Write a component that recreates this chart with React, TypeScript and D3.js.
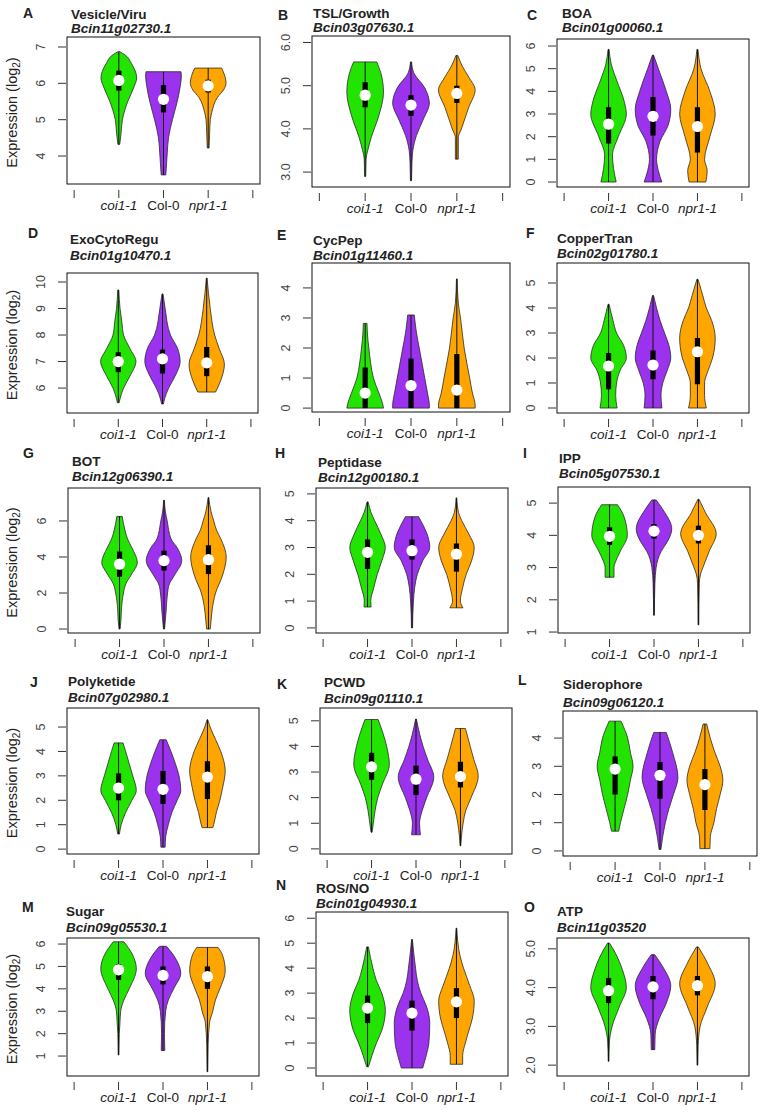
import React from "react";
import * as d3 from "d3";

type Violin = { q1: number; med: number; q3: number; profile: [number, number][] };

const groups = ["coi1-1", "Col-0", "npr1-1"];
const groupItalic = [true, false, true];
const groupColors = ["#22e400", "#9a32ee", "#ffa500"];

const letters = ["A", "B", "C", "D", "E", "F", "G", "H", "I", "J", "K", "L", "M", "N", "O"];
const titles = ["Vesicle/Viru", "TSL/Growth", "BOA", "ExoCytoRegu", "CycPep", "CopperTran", "BOT", "Peptidase", "IPP", "Polyketide", "PCWD", "Siderophore", "Sugar", "ROS/NO", "ATP"];
const genes = ["Bcin11g02730.1", "Bcin03g07630.1", "Bcin01g00060.1", "Bcin01g10470.1", "Bcin01g11460.1", "Bcin02g01780.1", "Bcin12g06390.1", "Bcin12g00180.1", "Bcin05g07530.1", "Bcin07g02980.1", "Bcin09g01110.1", "Bcin09g06120.1", "Bcin09g05530.1", "Bcin01g04930.1", "Bcin11g03520"];

const yTicks: number[][] = [
  [4, 5, 6, 7], [3, 4, 5, 6], [0, 1, 2, 3, 4, 5, 6],
  [6, 7, 8, 9, 10], [0, 1, 2, 3, 4], [0, 1, 2, 3, 4, 5],
  [0, 2, 4, 6], [0, 1, 2, 3, 4, 5], [1, 2, 3, 4, 5],
  [0, 1, 2, 3, 4, 5], [0, 1, 2, 3, 4, 5], [0, 1, 2, 3, 4],
  [1, 2, 3, 4, 5, 6], [0, 1, 2, 3, 4, 5, 6], [2, 3, 4, 5],
];
const tickDecimals = [0, 1, 0, 0, 0, 0, 0, 0, 0, 0, 0, 0, 0, 0, 1];

const violinsA: Violin[] = [
  { q1: 5.8, med: 6.08, q3: 6.35, profile: [[4.32, 0.05], [4.6, 0.12], [5.0, 0.2], [5.5, 0.5], [5.9, 0.85], [6.15, 1.0], [6.55, 0.7], [6.78, 0.35], [6.87, 0.05]] },
  { q1: 5.2, med: 5.56, q3: 5.95, profile: [[3.48, 0.13], [4.0, 0.2], [4.5, 0.28], [5.0, 0.5], [5.5, 0.77], [5.9, 0.93], [6.2, 1.0], [6.32, 0.98]] },
  { q1: 5.75, med: 5.93, q3: 6.1, profile: [[4.22, 0.05], [4.6, 0.08], [5.0, 0.12], [5.2, 0.2], [5.6, 0.5], [5.85, 0.9], [6.0, 1.0], [6.25, 0.9], [6.42, 0.75]] },
];
const violinsB: Violin[] = [
  { q1: 4.5, med: 4.78, q3: 5.08, profile: [[2.9, 0.03], [3.3, 0.05], [3.5, 0.14], [3.8, 0.33], [4.3, 0.74], [4.85, 1.0], [5.3, 0.85], [5.55, 0.63]] },
  { q1: 4.3, med: 4.55, q3: 4.78, profile: [[2.8, 0.03], [3.2, 0.05], [3.5, 0.1], [3.85, 0.3], [4.2, 0.65], [4.6, 1.0], [4.95, 0.75], [5.3, 0.15], [5.55, 0.03]] },
  { q1: 4.6, med: 4.82, q3: 5.0, profile: [[3.3, 0.08], [3.8, 0.08], [4.0, 0.25], [4.5, 0.65], [4.9, 1.0], [5.2, 0.65], [5.45, 0.3], [5.7, 0.05]] },
];
const violinsC: Violin[] = [
  { q1: 1.7, med: 2.55, q3: 3.3, profile: [[0, 0.43], [0.6, 0.28], [1.2, 0.22], [2.0, 0.55], [3.0, 1.0], [3.5, 0.9], [4.5, 0.45], [5.2, 0.15], [5.85, 0.03]] },
  { q1: 2.05, med: 2.9, q3: 3.75, profile: [[0, 0.5], [0.5, 0.3], [1.0, 0.2], [1.8, 0.4], [2.5, 0.85], [3.2, 1.0], [4.0, 0.75], [5.0, 0.3], [5.6, 0.03]] },
  { q1: 1.3, med: 2.45, q3: 3.3, profile: [[0, 0.47], [0.5, 0.55], [1.0, 0.4], [2.0, 0.7], [3.0, 1.0], [4.0, 0.7], [5.0, 0.2], [5.85, 0.03]] },
];
const violinsD: Violin[] = [
  { q1: 6.6, med: 7.0, q3: 7.35, profile: [[5.45, 0.05], [5.6, 0.1], [6.0, 0.3], [6.5, 0.7], [7.0, 1.0], [7.5, 0.65], [8.0, 0.3], [8.5, 0.2], [9.0, 0.1], [9.7, 0.03]] },
  { q1: 6.55, med: 7.1, q3: 7.45, profile: [[5.4, 0.05], [5.6, 0.12], [6.0, 0.35], [6.5, 0.75], [7.0, 1.0], [7.5, 0.85], [8.0, 0.45], [9.0, 0.15], [9.55, 0.03]] },
  { q1: 6.45, med: 6.95, q3: 7.55, profile: [[5.85, 0.5], [6.3, 0.8], [6.9, 1.0], [7.5, 0.7], [8.0, 0.45], [9.0, 0.2], [10.15, 0.02]] },
];
const violinsE: Violin[] = [
  { q1: 0, med: 0.5, q3: 1.35, profile: [[0, 1.0], [0.15, 0.95], [0.5, 0.75], [1.0, 0.45], [1.5, 0.3], [2.0, 0.2], [2.5, 0.12], [2.82, 0.1]] },
  { q1: 0, med: 0.75, q3: 1.65, profile: [[0, 1.0], [0.1, 1.0], [0.5, 0.9], [1.0, 0.75], [1.5, 0.6], [2.0, 0.45], [2.5, 0.3], [3.1, 0.18]] },
  { q1: 0, med: 0.6, q3: 1.8, profile: [[0, 1.0], [0.1, 1.0], [0.5, 0.85], [1.0, 0.7], [2.0, 0.4], [3.0, 0.2], [3.5, 0.08], [4.3, 0.02]] },
];
const violinsF: Violin[] = [
  { q1: 0.75, med: 1.68, q3: 2.2, profile: [[0, 0.48], [0.5, 0.4], [1.0, 0.45], [1.5, 0.65], [2.0, 1.0], [2.5, 0.85], [3.0, 0.45], [3.5, 0.25], [4.15, 0.03]] },
  { q1: 1.15, med: 1.72, q3: 2.3, profile: [[0, 0.5], [0.5, 0.45], [1.0, 0.55], [1.5, 0.8], [2.0, 1.0], [2.5, 0.9], [3.0, 0.65], [3.5, 0.4], [4.0, 0.2], [4.5, 0.03]] },
  { q1: 0.95, med: 2.25, q3: 2.8, profile: [[0, 0.5], [0.5, 0.4], [1.0, 0.4], [1.5, 0.6], [2.0, 0.85], [2.8, 1.0], [3.5, 0.8], [4.0, 0.5], [4.5, 0.3], [5.15, 0.03]] },
];
const violinsG: Violin[] = [
  { q1: 2.9, med: 3.6, q3: 4.3, profile: [[0, 0.03], [0.5, 0.08], [1.0, 0.1], [2.0, 0.22], [2.5, 0.35], [3.0, 0.65], [3.7, 1.0], [4.5, 0.7], [5.0, 0.45], [5.5, 0.3], [6.25, 0.15]] },
  { q1: 3.25, med: 3.8, q3: 4.35, profile: [[0, 0.03], [1.0, 0.12], [2.0, 0.2], [2.5, 0.3], [3.0, 0.6], [3.8, 1.0], [4.5, 0.75], [5.0, 0.4], [6.0, 0.18], [6.5, 0.08], [7.15, 0.02]] },
  { q1: 3.05, med: 3.85, q3: 4.65, profile: [[0, 0.1], [0.5, 0.15], [1.0, 0.2], [2.0, 0.4], [3.0, 0.8], [4.0, 1.0], [5.0, 0.7], [5.5, 0.45], [6.0, 0.3], [6.5, 0.15], [7.3, 0.02]] },
];
const violinsH: Violin[] = [
  { q1: 2.2, med: 2.82, q3: 3.3, profile: [[0.78, 0.2], [1.0, 0.18], [1.5, 0.35], [2.0, 0.55], [2.5, 0.8], [3.0, 1.0], [3.5, 0.75], [4.0, 0.4], [4.3, 0.2], [4.7, 0.03]] },
  { q1: 2.55, med: 2.88, q3: 3.3, profile: [[0, 0.03], [1.0, 0.08], [1.5, 0.15], [2.0, 0.3], [2.5, 0.6], [3.0, 1.0], [3.4, 0.9], [3.8, 0.65], [4.15, 0.37]] },
  { q1: 2.1, med: 2.75, q3: 3.15, profile: [[0.75, 0.37], [1.0, 0.22], [1.5, 0.35], [2.0, 0.55], [2.5, 0.85], [3.0, 1.0], [3.5, 0.7], [4.0, 0.3], [4.3, 0.12], [4.85, 0.02]] },
];
const violinsI: Violin[] = [
  { q1: 3.7, med: 3.97, q3: 4.25, profile: [[2.7, 0.25], [3.0, 0.25], [3.2, 0.35], [3.5, 0.6], [4.0, 1.0], [4.6, 0.8], [4.95, 0.45]] },
  { q1: 3.9, med: 4.13, q3: 4.35, profile: [[1.52, 0.02], [2.5, 0.05], [3.0, 0.12], [3.5, 0.4], [3.8, 0.75], [4.2, 1.0], [4.8, 0.5], [5.1, 0.12]] },
  { q1: 3.75, med: 4.0, q3: 4.3, profile: [[1.22, 0.02], [2.5, 0.05], [2.8, 0.12], [3.0, 0.25], [3.5, 0.6], [4.05, 1.0], [4.7, 0.4], [5.12, 0.03]] },
];
const violinsJ: Violin[] = [
  { q1: 2.0, med: 2.5, q3: 3.1, profile: [[0.62, 0.05], [1.0, 0.15], [1.5, 0.4], [2.0, 0.75], [2.4, 1.0], [3.0, 0.8], [3.5, 0.6], [4.0, 0.4], [4.35, 0.25]] },
  { q1: 1.85, med: 2.45, q3: 3.2, profile: [[0.08, 0.12], [0.5, 0.15], [1.0, 0.3], [1.5, 0.5], [2.0, 0.8], [2.4, 1.0], [3.0, 0.9], [3.5, 0.7], [4.0, 0.45], [4.48, 0.18]] },
  { q1: 2.05, med: 2.95, q3: 3.6, profile: [[0.88, 0.3], [1.0, 0.35], [1.5, 0.5], [2.0, 0.7], [2.5, 0.85], [3.2, 1.0], [4.0, 0.75], [4.5, 0.45], [5.0, 0.15], [5.3, 0.02]] },
];
const violinsK: Violin[] = [
  { q1: 2.7, med: 3.2, q3: 3.75, profile: [[0.65, 0.03], [1.0, 0.1], [1.5, 0.2], [2.0, 0.35], [2.5, 0.6], [3.3, 1.0], [4.0, 0.85], [4.5, 0.65], [5.05, 0.37]] },
  { q1: 2.1, med: 2.72, q3: 3.25, profile: [[0.55, 0.25], [1.0, 0.2], [1.5, 0.35], [2.0, 0.6], [2.8, 1.0], [3.5, 0.65], [4.0, 0.4], [4.5, 0.2], [5.07, 0.02]] },
  { q1: 2.4, med: 2.82, q3: 3.4, profile: [[0.12, 0.02], [0.5, 0.06], [1.0, 0.15], [1.5, 0.3], [2.0, 0.6], [2.85, 1.0], [3.5, 0.75], [4.0, 0.55], [4.7, 0.28]] },
];
const violinsL: Violin[] = [
  { q1: 2.0, med: 2.9, q3: 3.35, profile: [[0.7, 0.2], [1.0, 0.3], [1.5, 0.5], [2.0, 0.7], [2.5, 0.85], [3.0, 1.0], [3.5, 0.85], [4.0, 0.7], [4.6, 0.33]] },
  { q1: 1.85, med: 2.68, q3: 3.15, profile: [[0.05, 0.05], [0.5, 0.15], [1.0, 0.3], [1.5, 0.5], [2.0, 0.75], [2.6, 1.0], [3.5, 0.7], [4.2, 0.35]] },
  { q1: 1.45, med: 2.35, q3: 2.9, profile: [[0.08, 0.28], [0.5, 0.3], [1.0, 0.5], [1.5, 0.65], [2.0, 0.85], [2.5, 1.0], [3.0, 0.85], [3.5, 0.55], [4.0, 0.3], [4.5, 0.1]] },
];
const violinsM: Violin[] = [
  { q1: 4.4, med: 4.85, q3: 5.1, profile: [[1.05, 0.02], [2.0, 0.04], [2.5, 0.08], [3.0, 0.12], [3.5, 0.3], [4.0, 0.6], [4.9, 1.0], [5.5, 0.8], [6.1, 0.3]] },
  { q1: 4.2, med: 4.6, q3: 5.0, profile: [[1.25, 0.1], [2.0, 0.08], [3.0, 0.15], [3.5, 0.3], [4.0, 0.6], [4.7, 1.0], [5.3, 0.75], [5.9, 0.2]] },
  { q1: 4.0, med: 4.55, q3: 5.0, profile: [[0.3, 0.02], [1.5, 0.04], [2.5, 0.12], [3.0, 0.3], [3.5, 0.45], [4.0, 0.7], [4.8, 1.0], [5.5, 0.85], [5.85, 0.6]] },
];
const violinsN: Violin[] = [
  { q1: 1.8, med: 2.4, q3: 2.9, profile: [[0.05, 0.05], [0.5, 0.25], [1.0, 0.5], [1.5, 0.8], [2.3, 1.0], [3.0, 0.8], [3.5, 0.5], [4.0, 0.3], [4.85, 0.05]] },
  { q1: 1.5, med: 2.2, q3: 2.7, profile: [[0, 0.6], [0.5, 0.8], [1.0, 0.95], [1.8, 1.0], [2.5, 0.8], [3.0, 0.5], [3.5, 0.3], [4.0, 0.2], [5.15, 0.02]] },
  { q1: 2.0, med: 2.65, q3: 3.2, profile: [[0.15, 0.35], [0.5, 0.35], [1.0, 0.5], [1.5, 0.7], [2.0, 0.9], [2.7, 1.0], [3.3, 0.75], [4.0, 0.4], [4.5, 0.2], [5.6, 0.02]] },
];
const violinsO: Violin[] = [
  { q1: 3.6, med: 3.92, q3: 4.25, profile: [[2.1, 0.02], [2.6, 0.05], [3.0, 0.2], [3.5, 0.6], [4.0, 1.0], [4.5, 0.75], [5.0, 0.25], [5.15, 0.05]] },
  { q1: 3.7, med: 4.02, q3: 4.3, profile: [[2.4, 0.1], [2.8, 0.12], [3.2, 0.35], [3.6, 0.75], [4.05, 1.0], [4.5, 0.6], [4.85, 0.1]] },
  { q1: 3.8, med: 4.05, q3: 4.3, profile: [[2.0, 0.02], [2.5, 0.04], [3.0, 0.15], [3.5, 0.55], [4.1, 1.0], [4.6, 0.6], [5.05, 0.05]] },
];

const allViolins = [violinsA, violinsB, violinsC, violinsD, violinsE, violinsF, violinsG, violinsH, violinsI, violinsJ, violinsK, violinsL, violinsM, violinsN, violinsO];

// layout: plot box and y domain (value at box bottom / top), label positions
const LAYOUT = [
  { l: 67, t: 37, r: 260, b: 184, lo: 3.23, hi: 7.275, lx: 23, ly: 18, tx: 71, ty: 19, gy: 33 },
  { l: 312, t: 36, r: 510, b: 187, lo: 2.655, hi: 6.15, lx: 278, ly: 20, tx: 313, ty: 18, gy: 32 },
  { l: 557, t: 39, r: 749, b: 187, lo: -0.22, hi: 6.31, lx: 527, ly: 20, tx: 562, ty: 18, gy: 32 },
  { l: 67, t: 273, r: 258, b: 413, lo: 5.06, hi: 10.34, lx: 28, ly: 238, tx: 70, ty: 244, gy: 260 },
  { l: 312, t: 263, r: 510, b: 412, lo: -0.13, hi: 4.83, lx: 277, ly: 240, tx: 313, ty: 245, gy: 260 },
  { l: 557, t: 263, r: 749, b: 413, lo: -0.2, hi: 5.8, lx: 526, ly: 238, tx: 557, ty: 243, gy: 258 },
  { l: 68, t: 488, r: 260, b: 633, lo: -0.22, hi: 7.83, lx: 23, ly: 458, tx: 72, ty: 466, gy: 481 },
  { l: 316, t: 488, r: 508, b: 633, lo: -0.19, hi: 5.22, lx: 275, ly: 458, tx: 318, ty: 467, gy: 482 },
  { l: 558, t: 487, r: 750, b: 633, lo: 0.97, hi: 5.5, lx: 523, ly: 458, tx: 559, ty: 463, gy: 478 },
  { l: 67, t: 708, r: 259, b: 854, lo: -0.2, hi: 5.78, lx: 30, ly: 687, tx: 68, ty: 686, gy: 702 },
  { l: 320, t: 708, r: 512, b: 854, lo: -0.2, hi: 5.5, lx: 277, ly: 689, tx: 324, ty: 687, gy: 703 },
  { l: 563, t: 711, r: 757, b: 856, lo: -0.18, hi: 4.96, lx: 518, ly: 685, tx: 563, ty: 689, gy: 707 },
  { l: 67, t: 938, r: 259, b: 1076, lo: 0.11, hi: 6.27, lx: 22, ly: 912, tx: 66, ty: 916, gy: 932 },
  { l: 316, t: 912, r: 508, b: 1076, lo: -0.32, hi: 6.25, lx: 276, ly: 890, tx: 316, ty: 893, gy: 908 },
  { l: 557, t: 938, r: 749, b: 1076, lo: 1.72, hi: 5.28, lx: 524, ly: 912, tx: 557, ty: 916, gy: 932 },
];

const FONT = "'Liberation Sans', Arial, Helvetica, sans-serif";
const TXT = "#222";

function Panel({ idx }: { idx: number }) {
  const L = LAYOUT[idx];
  const x = d3.scaleLinear().domain([-0.16, 4.16]).range([L.l, L.r]);
  const y = d3.scaleLinear().domain([L.lo, L.hi]).range([L.b, L.t]);
  const unit = x(1) - x(0);
  const half = 0.4 * unit;
  const fmt = d3.format(tickDecimals[idx] ? ".1f" : "d");
  const violins = allViolins[idx];
  const showYTitle = idx % 3 === 0;
  return (
    <g>
      <text x={L.lx} y={L.ly} fontFamily={FONT} fontWeight="bold" fontSize={14} fill={TXT}>{letters[idx]}</text>
      <text x={L.tx} y={L.ty} fontFamily={FONT} fontWeight="bold" fontSize={13.5} fill={TXT}>{titles[idx]}</text>
      <text x={L.tx} y={L.gy} fontFamily={FONT} fontWeight="bold" fontStyle="italic" fontSize={13.5} fill={TXT}>{genes[idx]}</text>
      {showYTitle && (
        <text transform={`translate(17,${(L.t + L.b) / 2 + 2}) rotate(-90)`} textAnchor="middle" fontFamily={FONT} fontSize={14.5} fill={TXT}>
          Expression (log<tspan dy={3} fontSize={10}>2</tspan><tspan dy={-3}>)</tspan>
        </text>
      )}
      {violins.map((v, gi) => {
        const cx = x(gi + 1);
        const prof = [...v.profile].sort((a, b) => b[0] - a[0]);
        const area = d3
          .area<[number, number]>()
          .y((d) => y(d[0]))
          .x0((d) => cx - d[1] * half)
          .x1((d) => cx + d[1] * half)
          .curve(d3.curveMonotoneY);
        const vmin = d3.min(v.profile, (d) => d[0]) as number;
        const vmax = d3.max(v.profile, (d) => d[0]) as number;
        return (
          <g key={gi}>
            <path d={area(prof) || ""} fill={groupColors[gi]} stroke="#2a2a2a" strokeWidth={0.8} />
            <line x1={cx} x2={cx} y1={y(vmin)} y2={y(vmax)} stroke="#111" strokeWidth={1} />
            <rect x={cx - 2.6} width={5.2} y={y(v.q3)} height={y(v.q1) - y(v.q3)} fill="#000" />
            <circle cx={cx} cy={y(v.med)} r={5.6} fill="#fff" />
          </g>
        );
      })}
      <rect x={L.l} y={L.t} width={L.r - L.l} height={L.b - L.t} fill="none" stroke="#111" strokeWidth={1} />
      {yTicks[idx].map((t) => (
        <g key={t}>
          <line x1={L.l - 9} x2={L.l - 1} y1={y(t)} y2={y(t)} stroke="#333" strokeWidth={1} />
          <text transform={`translate(${L.l - 22},${y(t)}) rotate(-90)`} textAnchor="middle" fontFamily={FONT} fontSize={12.5} fill="#444">{fmt(t)}</text>
        </g>
      ))}
      {[0, 1, 2, 3, 4].map((t) => (
        <line key={t} x1={x(t)} x2={x(t)} y1={L.b + 6} y2={L.b + 14} stroke="#333" strokeWidth={1} />
      ))}
      {groups.map((g, gi) => (
        <text key={g} x={x(gi + 1)} y={L.b + 26} textAnchor="middle" fontFamily={FONT} fontStyle={groupItalic[gi] ? "italic" : "normal"} fontSize={13.5} fill={TXT}>{g}</text>
      ))}
    </g>
  );
}

export default function App() {
  return (
    <svg width={762} height={1116} style={{ position: "absolute", left: 0, top: 0, background: "#fff" }}>
      <rect width={762} height={1116} fill="#fff" />
      {letters.map((_, i) => (
        <Panel key={i} idx={i} />
      ))}
    </svg>
  );
}
